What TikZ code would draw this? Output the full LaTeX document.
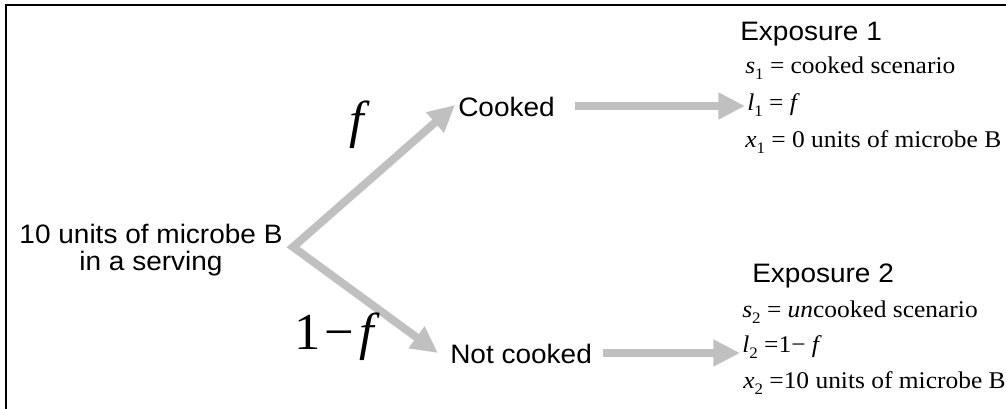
\documentclass[tikz,border=0pt]{standalone}
\usepackage{fontspec}
\setmainfont{Liberation Serif}
\newfontfamily\sansS[FakeStretch=1.05]{Liberation Sans}
\newfontfamily\serS[FakeStretch=1.06]{Liberation Serif}
\newfontfamily\serB[FakeStretch=1.01]{Liberation Serif}
\usetikzlibrary{arrows.meta}
\definecolor{arrowgray}{RGB}{192,192,192}
\newcommand\sbx[1]{\raisebox{-0.28em}{\fontsize{12}{12}\selectfont #1}}
\tikzset{
  lbl/.style={font=\sansS\fontsize{20}{20}\selectfont, inner sep=0pt, anchor=base},
  eqline/.style={font=\serS\fontsize{18}{19}\selectfont, inner sep=0pt, anchor=base west},
  biglbl/.style={font=\serB\fontsize{39}{40}\selectfont, inner sep=0pt, anchor=base},
  flow/.style={draw=arrowgray, line width=6pt, -{Triangle[length=20pt,width=19pt]}},
  frameline/.style={draw=black, line width=1.5pt}
}
\begin{document}
\begin{tikzpicture}[x=0.75pt,y=-0.75pt]
\useasboundingbox (0,0) rectangle (1006,408);
% frame
\coordinate (fbl) at (6,409);
\coordinate (ftl) at (6,5);
\coordinate (ftr) at (1007,5);
\draw[frameline] (fbl) -- (ftl) -- (ftr);

% source
\node[lbl, align=center, anchor=center] (src) at (151,250) {10 units of microbe B\\in a serving};

% branches
\coordinate (branch) at (293,247);
\coordinate (cookTip) at (455,105);
\coordinate (notTip) at (438,353);
\draw[flow, {Triangle[length=20pt,width=19pt]}-{Triangle[length=20pt,width=19pt]}, line join=miter]
  (cookTip) -- (branch) -- (notTip);

\node[biglbl] (flab) at (360,137) {\textit{f}};
\node[biglbl] (nflab) at (337,349) {1\kern3.5pt−\kern3.5pt\textit{f}};

% middle nodes
\node[lbl, anchor=base west] (cooked) at (458,116) {Cooked};
\node[lbl, anchor=base west] (notcooked) at (450,363) {Not cooked};

% exposure 1
\node[lbl, anchor=base west] (exp1) at (740,40) {Exposure 1};
\node[eqline] (s1) at (745,73) {\textit{s}\sbx{1} = cooked scenario};
\node[eqline] (l1) at (747,110) {\textit{l}\sbx{1} = \textit{f}};
\node[eqline] (x1) at (745,147) {\textit{x}\sbx{1} = 0 units of microbe B};

% exposure 2
\node[lbl, anchor=base west] (exp2) at (752,282) {Exposure 2};
\node[eqline] (s2) at (742,317) {\textit{s}\sbx{2} = \textit{un}cooked scenario};
\node[eqline] (l2) at (742,352) {\textit{l}\sbx{2} =1− \textit{f}};
\node[eqline] (x2) at (743,388) {\textit{x}\sbx{2} =10 units of microbe B};

% horizontal arrows
\coordinate (c1s) at (575,106);
\coordinate (c1e) at (745,106);
\coordinate (c2s) at (603,353);
\coordinate (c2e) at (740,353);
\draw[flow] (c1s) -- (c1e);
\draw[flow] (c2s) -- (c2e);
\end{tikzpicture}
\end{document}
